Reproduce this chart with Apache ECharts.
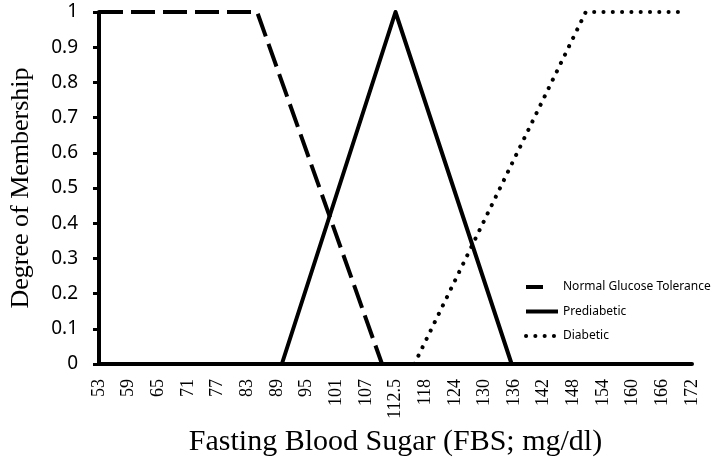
<!DOCTYPE html>
<html>
<head>
<meta charset="utf-8">
<script src="https://cdn.jsdelivr.net/npm/echarts@6/dist/echarts.min.js"></script>
<style>
  html, body { margin: 0; padding: 0; background: #fff; }
  #chart { width: 712px; height: 459px; }
</style>
</head>
<body>
<div id="chart"></div>
<script>
// tick labels of the (evenly spaced) FBS axis
const xLabels = ["53", "59", "65", "71", "77", "83", "89", "95", "101", "107", "112.5",
  "118", "124", "130", "136", "142", "148", "154", "160", "166", "172"];
const xTicks = xLabels.map(Number);

// membership functions, [FBS mg/dl, degree]
const normalFbs = [53, 85, 110];
const normalDeg = [1, 1, 0];
const preFbs = [90, 112.5, 135.5];
const preDeg = [0, 1, 0];
const diabFbs = [116, 150.5, 171];
const diabDeg = [0, 1, 1];

// FBS value -> position on the evenly spaced tick axis
function toIdx(v) {
  for (let i = 0; i < xTicks.length - 1; i++) {
    if (v <= xTicks[i + 1]) {
      return i + (v - xTicks[i]) / (xTicks[i + 1] - xTicks[i]);
    }
  }
  return xTicks.length - 1;
}
function pairs(xs, ys) {
  return xs.map((x, i) => [toIdx(x), ys[i]]);
}

const chart = echarts.init(document.getElementById("chart"));
const serif = "Liberation Serif";
const sans = "Noto Sans";

chart.setOption({
  animation: false,
  color: ["#000", "#000", "#000"],
  grid: { left: 99, right: 20, top: 12, bottom: 95, outerBoundsMode: "none" },
  legend: {
    orient: "vertical",
    left: 524,
    top: 281,
    padding: 0,
    itemWidth: 32,
    itemHeight: 12,
    itemGap: 12.5,
    itemStyle: { opacity: 0 },
    lineStyle: { width: 4 },
    textStyle: { fontFamily: sans, fontSize: 12, color: "#000" },
    data: [
      { name: "Normal Glucose Tolerance", lineStyle: { type: [17, 30], width: 4 } },
      { name: "Prediabetic" },
      { name: "Diabetic" }
    ]
  },
  xAxis: {
    type: "value",
    min: 0,
    max: xLabels.length - 1,
    interval: 1,
    name: "Fasting Blood Sugar (FBS; mg/dl)",
    nameLocation: "middle",
    nameGap: 62,
    nameTextStyle: { fontFamily: serif, fontSize: 30, color: "#000" },
    axisLine: { lineStyle: { color: "#000", width: 4 } },
    axisTick: { show: false },
    splitLine: { show: false },
    axisLabel: {
      rotate: 90,
      margin: 15,
      fontFamily: serif,
      fontSize: 18,
      color: "#000",
      formatter: (v) => xLabels[v]
    }
  },
  yAxis: {
    type: "value",
    min: 0,
    max: 1,
    interval: 0.1,
    name: "Degree of Membership",
    nameLocation: "middle",
    nameRotate: 90,
    nameGap: 65,
    nameTextStyle: { fontFamily: serif, fontSize: 26, color: "#000" },
    axisLine: { show: true, lineStyle: { color: "#000", width: 4 } },
    axisTick: { show: true, length: 6, lineStyle: { color: "#000", width: 3 } },
    splitLine: { show: false },
    axisLabel: { margin: 21, fontFamily: sans, fontSize: 19, color: "#000" }
  },
  series: [
    {
      name: "Normal Glucose Tolerance",
      type: "line",
      symbol: "none",
      data: pairs(normalFbs, normalDeg),
      lineStyle: { color: "#000", width: 4, type: [24, 8] }
    },
    {
      name: "Prediabetic",
      type: "line",
      symbol: "none",
      data: pairs(preFbs, preDeg),
      lineStyle: { color: "#000", width: 4, join: "round" }
    },
    {
      name: "Diabetic",
      type: "line",
      symbol: "none",
      data: pairs(diabFbs, diabDeg),
      lineStyle: { color: "#000", width: 4, type: [0.1, 9.2], cap: "round" }
    }
  ]
});
</script>
</body>
</html>
